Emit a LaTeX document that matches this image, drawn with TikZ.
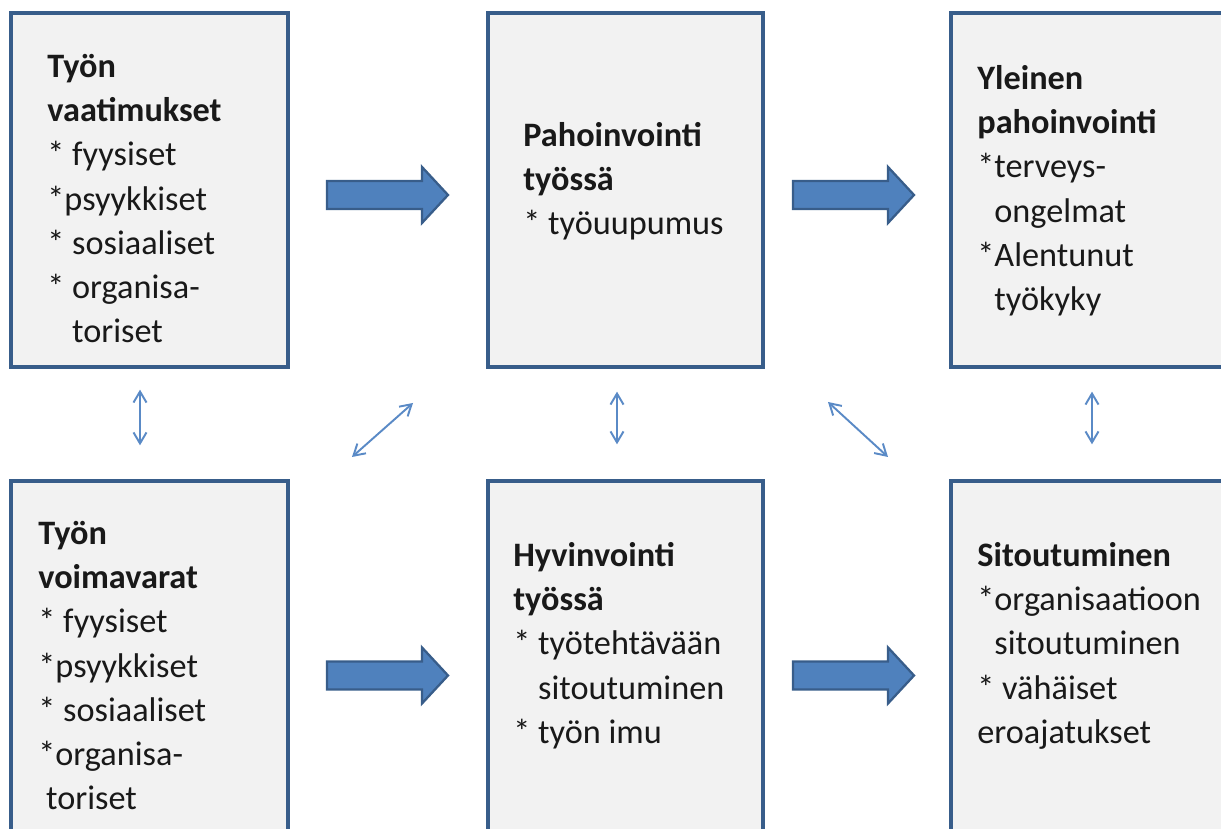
\documentclass[tikz,border=0pt]{standalone}
\usepackage{fontspec}
\setmainfont{Carlito}
\usetikzlibrary{arrows.meta}
\definecolor{boxline}{RGB}{56,93,138}
\definecolor{boxfill}{RGB}{242,242,242}
\definecolor{arrowfill}{RGB}{79,129,189}
\definecolor{thinblue}{RGB}{90,138,198}
\tikzset{
  stage/.style={draw=boxline, fill=boxfill, line width=1.9pt, minimum height=7.08cm, inner sep=0pt},
  stagetext/.style={anchor=north west, align=left, inner sep=0pt, font=\fontsize{19.5}{25.1}\selectfont, text=black!90},
  fat/.style={fill=arrowfill, draw=boxline, line width=1.3pt, line join=miter},
  twoway/.style={draw=thinblue, line width=1.1pt, {Straight Barb[length=0.22cm,width=0.26cm]}-{Straight Barb[length=0.22cm,width=0.26cm]}},
}
\newcommand{\fatarrow}[1]{\draw[fat] #1 ++(0,0.28) -- ++(1.9,0) -- ++(0,0.28) -- ++(0.52,-0.56) -- ++(-0.52,-0.56) -- ++(0,0.28) -- ++(-1.9,0) -- cycle;}

\begin{document}
\begin{tikzpicture}
\useasboundingbox (0,0) rectangle (24.42,16.58);
\clip (0,0) rectangle (24.42,16.58);
% top row
\node[stage, minimum width=5.54cm] (vaat) at (2.99,12.78) {};
\node[stage, minimum width=5.50cm] (pahoin) at (12.51,12.78) {};
\node[stage, minimum width=5.54cm] (yleinen) at (21.79,12.78) {};
% bottom row
\node[stage, minimum width=5.54cm] (voim) at (2.99,3.42) {};
\node[stage, minimum width=5.50cm] (hyvin) at (12.51,3.42) {};
\node[stage, minimum width=5.54cm] (sitout) at (21.79,3.42) {};
% box texts
\node[stagetext] (vaattxt) at (0.94,15.65) {\strut\textbf{Työn}\\\textbf{vaatimukset}\\* fyysiset\\*psyykkiset\\* sosiaaliset\\* organisa-\\\hphantom{* }toriset};
\node[stagetext] (pahointxt) at (10.46,14.27) {\strut\textbf{Pahoinvointi}\\\textbf{työssä}\\* työuupumus};
\node[stagetext] (yleinentxt) at (19.54,15.41) {\strut\textbf{Yleinen}\\\textbf{pahoinvointi}\\*terveys-\\\hphantom{*}ongelmat\\*Alentunut\\\hphantom{*}työkyky};
\node[stagetext] (voimtxt) at (0.76,6.31) {\strut\textbf{Työn}\\\textbf{voimavarat}\\* fyysiset\\*psyykkiset\\* sosiaaliset\\*organisa-\\\ toriset};
\node[stagetext] (hyvintxt) at (10.26,5.87) {\strut\textbf{Hyvinvointi}\\\textbf{työssä}\\* työtehtävään\\\hphantom{* }sitoutuminen\\* työn imu};
\node[stagetext] (sitouttxt) at (19.54,5.87) {\strut\textbf{Sitoutuminen}\\*organisaatioon\\\hphantom{*}sitoutuminen\\* vähäiset\\eroajatukset};
% block arrows
\fatarrow{(6.54,12.68)}
\fatarrow{(15.86,12.68)}
\fatarrow{(6.54,3.07)}
\fatarrow{(15.86,3.07)}
% two-way links
\draw[twoway, shorten <=0.42cm, shorten >=0.68cm] ([xshift=-0.19cm]vaat.south) -- ([xshift=-0.19cm]voim.north);
\draw[twoway, shorten <=0.46cm, shorten >=0.70cm] ([xshift=-0.17cm]pahoin.south) -- ([xshift=-0.17cm]hyvin.north);
\draw[twoway, shorten <=0.46cm, shorten >=0.70cm] ([xshift=0.05cm]yleinen.south) -- ([xshift=0.05cm]sitout.north);
\coordinate (d1a) at (7.04,7.44);
\coordinate (d1b) at (8.26,8.52);
\coordinate (d2a) at (16.56,8.54);
\coordinate (d2b) at (17.76,7.44);
\draw[twoway] (d1a) -- (d1b);
\draw[twoway] (d2a) -- (d2b);
\end{tikzpicture}
\end{document}
